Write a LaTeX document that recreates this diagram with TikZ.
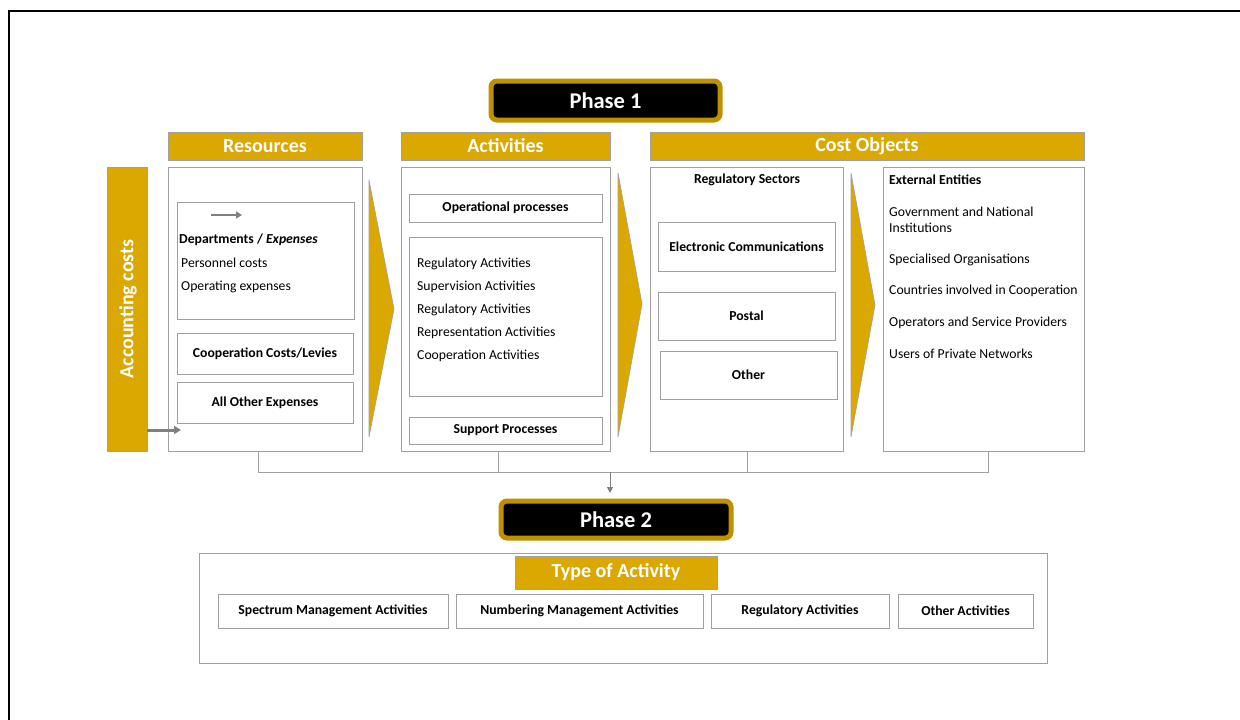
\documentclass[tikz,border=0pt]{standalone}
\usepackage{fontspec}
\setmainfont{Carlito}
\usetikzlibrary{arrows.meta}
\definecolor{gold}{RGB}{218,168,0}
\definecolor{darkgold}{RGB}{191,144,0}
\definecolor{boxgray}{RGB}{160,160,160}
\definecolor{lgray}{RGB}{128,128,128}
\begin{document}
\begin{tikzpicture}[x=1pt,y=-1pt,
  box/.style={draw=boxgray, line width=1pt, fill=white, inner sep=0pt, outer sep=0pt, anchor=north west},
  hdr/.style={draw=boxgray, line width=1pt, fill=gold, inner sep=0pt, outer sep=0pt, anchor=north west},
  phase/.style={draw=darkgold, line width=5pt, fill=black, rounded corners=6pt, inner sep=0pt, outer sep=0pt, anchor=north west},
  hdrtxt/.style={text=white, font=\fontsize{20}{23}\selectfont\bfseries, inner sep=0pt},
  phtxt/.style={text=white, font=\fontsize{22.5}{26}\selectfont\bfseries, inner sep=0pt},
  txt/.style={font=\fontsize{13.7}{16}\selectfont, inner sep=0pt, anchor=west},
  btxt/.style={font=\fontsize{13.7}{16}\selectfont\bfseries, inner sep=0pt},
  chev/.style={fill=gold, draw=boxgray, line width=0.6pt},
  conn/.style={draw=boxgray, line width=1pt},
  garrow/.style={draw=lgray, line width=3pt, -{Triangle[length=7pt,width=8pt]}}
]
\useasboundingbox (0,0) rectangle (1240,720);
\fill[white] (0,0) rectangle (1240,720);
% outer frame
\draw[line width=2pt] (9,720) -- (9,11) -- (1240,11);

% Phase 1
\node[phase, minimum width=229pt, minimum height=39pt] (ph1) at (491,81) {};
\node[phtxt] (ph1t) at (ph1.center) {Phase 1};

% headers
\node[hdr, minimum width=194pt, minimum height=28pt] (hres) at (168,132) {};
\node[hdrtxt] at (hres.center) {Resources};
\node[hdr, minimum width=209pt, minimum height=28pt] (hact) at (401,132) {};
\node[hdrtxt] at (hact.center) {Activities};
\node[hdr, minimum width=434pt, minimum height=28pt] (hcost) at (650,132) {};
\node[hdrtxt] at (hcost.center) {Cost Objects};

% accounting costs bar
\node[hdr, minimum width=40pt, minimum height=284pt] (acc) at (107,167) {};
\node[hdrtxt, rotate=90] at (128,309) {Accounting costs};

% Resources
\node[box, minimum width=194pt, minimum height=284pt] (res) at (168,167) {};
\node[box, minimum width=177pt, minimum height=117pt] (dept) at (177,202) {};
\coordinate (da1) at (211,215);
\coordinate (da2) at (242,215);
\draw[draw=lgray, line width=2.5pt, -{Triangle[length=6pt,width=7pt]}] (da1) -- (da2);
\node[btxt, anchor=west] at (179,240) {Departments / \textit{Expenses}};
\node[txt] at (181,263) {Personnel costs};
\node[txt] at (181,287) {Operating expenses};
\node[box, minimum width=176pt, minimum height=41pt] (coop) at (177,333) {};
\node[btxt] at (coop.center) {Cooperation Costs/Levies};
\node[box, minimum width=176pt, minimum height=41pt] (other1) at (177,382) {};
\node[btxt] at (other1.center) {All Other Expenses};
\coordinate (accout) at (147,430);
\coordinate (resin) at (181,430);
\draw[garrow] (accout) -- (resin);

% chevron 1
\draw[chev] (369,180) -- (394,309) -- (369,437) -- cycle;

% Activities
\node[box, minimum width=209pt, minimum height=284pt] (act) at (401,167) {};
\node[box, minimum width=193pt, minimum height=28pt] (oper) at (409,194) {};
\node[btxt] at (oper.center) {Operational processes};
\node[box, minimum width=193pt, minimum height=159pt] (alist) at (409,237) {};
\node[txt] at (417,264) {Regulatory Activities};
\node[txt] at (417,287) {Supervision Activities};
\node[txt] at (417,310) {Regulatory Activities};
\node[txt] at (417,333) {Representation Activities};
\node[txt] at (417,356) {Cooperation Activities};
\node[box, minimum width=193pt, minimum height=27pt] (supp) at (409,417) {};
\node[btxt] at (supp.center) {Support Processes};

% chevron 2
\draw[chev] (618,173) -- (642,304) -- (618,437) -- cycle;

% Cost objects - regulatory sectors
\node[box, minimum width=193pt, minimum height=284pt] (sect) at (650,167) {};
\node[btxt] at (747,180) {Regulatory Sectors};
\node[box, minimum width=177pt, minimum height=49pt] (ecom) at (658,222) {};
\node[btxt] at (ecom.center) {Electronic Communications};
\node[box, minimum width=177pt, minimum height=48pt] (post) at (658,292) {};
\node[btxt] at (post.center) {Postal};
\node[box, minimum width=177pt, minimum height=48pt] (oth) at (660,351) {};
\node[btxt] at (oth.center) {Other};

% chevron 3
\draw[chev] (851,173) -- (875,305) -- (851,437) -- cycle;

% External entities
\node[box, minimum width=201pt, minimum height=284pt] (ext) at (883,167) {};
\node[btxt, anchor=west] at (889,180) {External Entities};
\node[txt] at (889,212) {Government and National};
\node[txt] at (889,228) {Institutions};
\node[txt] at (889,260) {Specialised Organisations};
\node[txt] at (889,291) {Countries involved in Cooperation};
\node[txt] at (889,323) {Operators and Service Providers};
\node[txt] at (889,354) {Users of Private Networks};

% connectors
\coordinate (j1) at (258,472);
\coordinate (j2) at (498,472);
\coordinate (j3) at (747,472);
\coordinate (j4) at (988,472);
\coordinate (jm) at (610,472);
\draw[conn] (j1 |- res.south) -- (j1) -- (j4) -- (j4 |- ext.south);
\draw[conn] (j2 |- act.south) -- (j2);
\draw[conn] (j3 |- sect.south) -- (j3);

% Phase 2
\node[phase, minimum width=230pt, minimum height=37pt] (ph2) at (501,501) {};
\node[phtxt] at (ph2.center) {Phase 2};
\draw[draw=lgray, line width=1pt, -{Triangle[length=6pt,width=6pt]}] (jm) -- (jm |- 0,493);

% Type of activity
\node[box, minimum width=848pt, minimum height=110pt] (tbox) at (199,553) {};
\node[hdr, minimum width=202pt, minimum height=33pt] (toa) at (515,556) {};
\node[text=white, font=\fontsize{20}{23}\selectfont\bfseries, inner sep=0pt] at (toa.center) {Type of Activity};
\node[box, minimum width=230pt, minimum height=34pt] (spec) at (218,594) {};
\node[btxt] at (spec.center) {Spectrum Management Activities};
\node[box, minimum width=247pt, minimum height=34pt] (numb) at (456,594) {};
\node[btxt] at (numb.center) {Numbering Management Activities};
\node[box, minimum width=178pt, minimum height=34pt] (regu) at (711,594) {};
\node[btxt] at (regu.center) {Regulatory Activities};
\node[box, minimum width=135pt, minimum height=34pt] (otha) at (898,594) {};
\node[btxt] at (otha.center) {Other Activities};
\end{tikzpicture}
\end{document}
